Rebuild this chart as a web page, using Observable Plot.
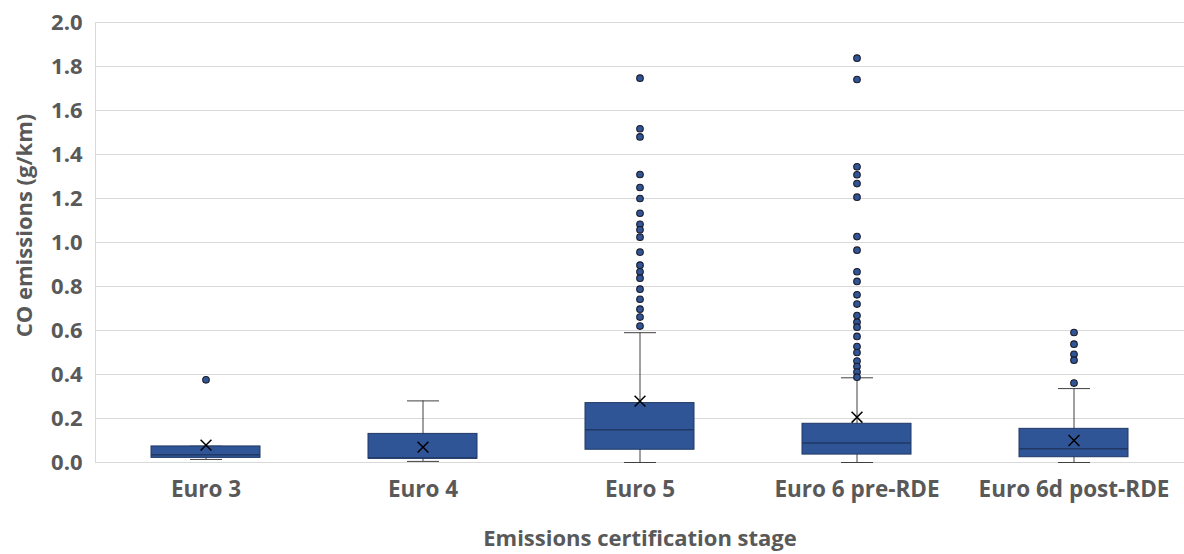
<!DOCTYPE html>
<html>
<head>
<meta charset="utf-8">
<script src="https://cdn.jsdelivr.net/npm/d3@7"></script>
<script src="https://cdn.jsdelivr.net/npm/@observablehq/plot@0.6"></script>
<style>
  html, body { margin: 0; padding: 0; background: #fff; }
  #chart svg { font-family: "Open Sans", "Liberation Sans", sans-serif; }
</style>
</head>
<body>
<div id="chart"></div>
<script>
const stages = ["Euro 3", "Euro 4", "Euro 5", "Euro 6 pre-RDE", "Euro 6d post-RDE"];
const whiskerLow  = [0.014, 0.005, 0.000, 0.000, 0.000];
const q1          = [0.021, 0.017, 0.058, 0.036, 0.024];
const median      = [0.035, 0.021, 0.149, 0.089, 0.062];
const q3          = [0.073, 0.130, 0.270, 0.176, 0.153];
const whiskerHigh = [0.074, 0.280, 0.590, 0.385, 0.336];
const mean        = [0.079, 0.070, 0.279, 0.206, 0.100];

const outliersEuro3 = [0.376];
const outliersEuro4 = [];
const outliersEuro5 = [1.747, 1.517, 1.480, 1.309, 1.250, 1.200, 1.133, 1.083, 1.058, 1.024,
  0.956, 0.897, 0.867, 0.838, 0.788, 0.742, 0.697, 0.661, 0.620];
const outliersEuro6 = [1.838, 1.741, 1.344, 1.308, 1.268, 1.206, 1.027, 0.965, 0.867, 0.823,
  0.762, 0.720, 0.668, 0.638, 0.615, 0.573, 0.527, 0.500, 0.461, 0.436, 0.411, 0.388];
const outliersEuro6d = [0.591, 0.538, 0.492, 0.465, 0.361];

const yTicks = [0, 0.2, 0.4, 0.6, 0.8, 1.0, 1.2, 1.4, 1.6, 1.8, 2.0];

const boxes = stages.map((s, i) => ({
  stage: s, lo: whiskerLow[i], q1: q1[i], med: median[i], q3: q3[i], hi: whiskerHigh[i], mean: mean[i]
}));
const outlierLists = [outliersEuro3, outliersEuro4, outliersEuro5, outliersEuro6, outliersEuro6d];
const outliers = outlierLists.flatMap((arr, i) => arr.map(v => ({stage: stages[i], value: v})));

const capSymbol = {
  draw(context, size) {
    const w = Math.sqrt(size / Math.PI);
    context.moveTo(-w, 0);
    context.lineTo(w, 0);
  }
};

const textColor = "#595959";
const boxFill = "#2F5597";
const boxStroke = "#1F3864";

const chart = Plot.plot({
  width: 1184,
  height: 554,
  marginLeft: 95,
  marginRight: 0,
  marginTop: 22,
  marginBottom: 92,
  x: {domain: stages, paddingInner: 0.5, paddingOuter: 0.25},
  y: {domain: [0, 2.0]},
  marks: [
    Plot.gridY(yTicks, {stroke: "#d9d9d9", strokeOpacity: 1, strokeWidth: 1}),
    Plot.frame({anchor: "left", stroke: "#d9d9d9", strokeOpacity: 1}),
    Plot.ruleX(boxes, {x: "stage", y1: "lo", y2: "hi", stroke: "#404040", strokeWidth: 1}),
    Plot.dot(boxes, {x: "stage", y: "hi", symbol: capSymbol, r: 16, stroke: "#404040", strokeWidth: 1, fill: "none"}),
    Plot.dot(boxes, {x: "stage", y: "lo", symbol: capSymbol, r: 16, stroke: "#404040", strokeWidth: 1, fill: "none"}),
    Plot.barY(boxes, {x: "stage", y1: "q1", y2: "q3", fill: boxFill, stroke: boxStroke, strokeWidth: 1}),
    Plot.tickY(boxes, {x: "stage", y: "med", stroke: boxStroke, strokeWidth: 1.5}),
    Plot.dot(boxes, {x: "stage", y: "mean", symbol: "times", r: 5, stroke: "#000", strokeWidth: 1.5}),
    Plot.dot(outliers, {x: "stage", y: "value", r: 3.3, fill: boxFill, stroke: "#1b1b2a", strokeWidth: 1.1}),
    Plot.axisY(yTicks, {tickSize: 0, tickPadding: 13, tickFormat: d => d.toFixed(1), fontSize: 22, fontWeight: "bold", fill: textColor, label: null}),
    Plot.axisX({tickSize: 0, tickPadding: 19, fontSize: 22.5, fontWeight: "bold", fill: textColor, label: null}),
    Plot.text(["CO emissions (g/km)"], {frameAnchor: "left", textAnchor: "middle", lineAnchor: "middle", rotate: -90, dx: -71, dy: -17, text: d => d, fontSize: 22, fontWeight: "bold", fill: textColor}),
    Plot.text(["Emissions certification stage"], {frameAnchor: "bottom", textAnchor: "middle", lineAnchor: "middle", dy: 76, text: d => d, fontSize: 22, fontWeight: "bold", fill: textColor})
  ]
});
document.getElementById("chart").appendChild(chart);
</script>
</body>
</html>
